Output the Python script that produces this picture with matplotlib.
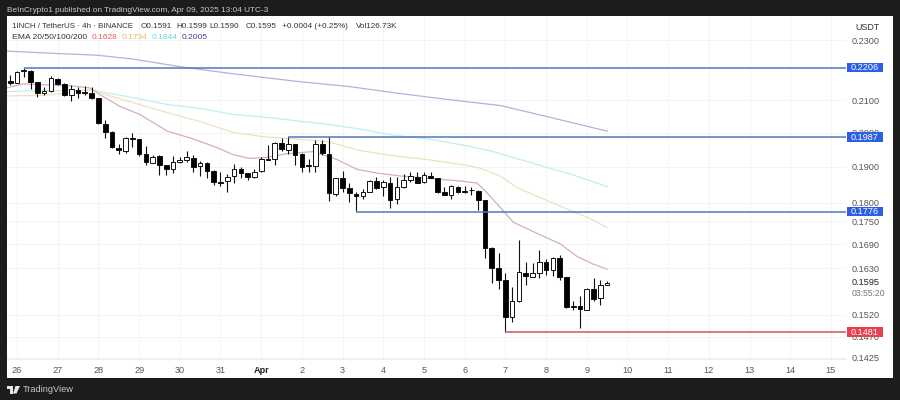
import matplotlib
matplotlib.use("Agg")
import matplotlib.pyplot as plt
from matplotlib.patches import Rectangle, Polygon
from matplotlib.ticker import NullLocator
from matplotlib.transforms import blended_transform_factory

plt.rcParams['font.family'] = ['Liberation Sans', 'DejaVu Sans']

# 4h candles, first one opens on day 25 at 20:00 (day numbers run on past 31: Apr 1 = 32)
first_candle_day = 25 + 5 / 6
opens = [.2162,.2157,.2194,.2196,.2158,.2122,.2130,.2170,.2152,.2117,.2133,.2127,.2122,.2107,.2028,.2002,
         .1956,.1946,.1984,.1980,.1937,.1912,.1931,.1906,.1893,.1913,.1919,.1926,.1901,.1911,.1889,.1857,
         .1859,.1874,.1893,.1881,.1870,.1888,.1923,.1922,.1969,.1949,.1965,.1937,.1905,.1903,.1967,.1936,
         .1824,.1868,.1839,.1824,.1817,.1829,.1861,.1843,.1853,.1809,.1842,.1863,.1871,.1856,.1874,.1868,
         .1828,.1820,.1844,.1831,.1836,.1833,.1807,.1680,.1631,.1601,.1514,.1551,.1618,.1610,.1620,.1646,
         .1626,.1655,.1608,.1541,.1541,.1531,.1580,.1558,.1591]
highs = [.2182,.2196,.2204,.2198,.2160,.2144,.2178,.2172,.2155,.2149,.2142,.2146,.2144,.2107,.2039,.2005,
         .1967,.1986,.2000,.1981,.1961,.1935,.1933,.1906,.1931,.1927,.1946,.1934,.1918,.1913,.1891,.1885,
         .1880,.1908,.1900,.1883,.1893,.1927,.1964,.1971,.1984,.1986,.1967,.1939,.1922,.1977,.1977,.1988,
         .1868,.1889,.1853,.1828,.1838,.1863,.1870,.1863,.1870,.1870,.1879,.1886,.1886,.1886,.1884,.1868,
         .1844,.1849,.1846,.1846,.1844,.1835,.1807,.1683,.1668,.1618,.1586,.1702,.1645,.1643,.1676,.1653,
         .1658,.1664,.1610,.1553,.1564,.1583,.1606,.1603,.1599]
lows = [.2149,.2155,.2176,.2135,.2110,.2117,.2128,.2150,.2115,.2099,.2107,.2117,.2106,.2028,.1983,.1956,
        .1937,.1940,.1957,.1931,.1904,.1910,.1877,.1877,.1883,.1911,.1915,.1885,.1874,.1867,.1849,.1846,
        .1830,.1853,.1868,.1862,.1868,.1886,.1920,.1905,.1947,.1937,.1905,.1885,.1886,.1885,.1934,.1805,
        .1817,.1829,.1803,.1777,.1809,.1828,.1837,.1817,.1786,.1795,.1840,.1858,.1853,.1853,.1867,.1826,
        .1821,.1810,.1826,.1826,.1821,.1780,.1655,.1594,.1580,.1481,.1504,.1550,.1589,.1609,.1606,.1614,
        .1612,.1602,.1535,.1531,.1490,.1530,.1551,.1542,.1590]
closes = [.2155,.2193,.2198,.2159,.2125,.2131,.2171,.2153,.2117,.2137,.2125,.2123,.2108,.2030,.2003,.1958,
          .1950,.1984,.1981,.1937,.1914,.1929,.1905,.1894,.1913,.1920,.1927,.1898,.1912,.1889,.1857,.1855,
          .1872,.1893,.1881,.1872,.1886,.1923,.1921,.1969,.1951,.1966,.1933,.1900,.1903,.1967,.1941,.1826,
          .1868,.1839,.1826,.1817,.1829,.1860,.1841,.1856,.1808,.1844,.1863,.1874,.1854,.1877,.1869,.1828,
          .1822,.1846,.1829,.1829,.1835,.1807,.1682,.1631,.1601,.1514,.1551,.1621,.1611,.1619,.1646,.1625,
          .1655,.1610,.1538,.1539,.1533,.1581,.1557,.1589,.1595]

ema20_days = [25.75,26.15,26.64,27.30,27.79,28.04,28.53,29.02,29.69,30.32,30.91,31.31,31.72,32.14,32.63,33.27,
              33.64,33.86,34.35,34.85,35.41,36.32,36.88,37.30,37.50,37.94,38.19,38.85,39.34,39.76,40.15,40.50]
ema20 = [.2140,.2153,.2150,.2147,.2140,.2118,.2081,.2056,.2005,.1982,.1956,.1935,.1924,.1927,.1938,.1944,
         .1930,.1921,.1893,.1882,.1874,.1865,.1860,.1854,.1833,.1779,.1748,.1715,.1692,.1660,.1641,.1628]
ema50_days = [25.75,26.07,26.64,27.13,27.79,28.04,28.85,29.69,30.50,31.31,32.14,32.78,33.64,34.43,35.24,36.07,
              37.06,37.38,37.87,38.29,38.85,39.51,40.01,40.50]
ema50 = [.2114,.2115,.2116,.2122,.2134,.2124,.2093,.2062,.2034,.2001,.1987,.1982,.1973,.1947,.1932,.1921,
         .1904,.1896,.1874,.1841,.1814,.1783,.1761,.1734]
ema100_days = [25.75,26.39,27.10,27.87,28.04,28.85,29.69,30.50,31.31,32.14,32.95,33.62,34.43,35.24,36.07,37.06,
               37.70,39.10,39.66,40.50]
ema100 = [.2128,.2131,.2131,.2134,.2128,.2109,.2087,.2075,.2056,.2047,.2035,.2026,.2011,.1993,.1982,.1961,
          .1944,.1896,.1877,.1844]
ema200_days = [25.75,26.81,27.97,28.85,30.08,31.31,32.95,34.18,35.41,36.64,37.87,39.10,40.50]
ema200 = [.2262,.2255,.2248,.2235,.2208,.2186,.2160,.2144,.2122,.2102,.2084,.2047,.2005]

level_prices = [.2206, .1987, .1776, .1481]
level_starts = [26.17, 32.66, 34.33, 38.0]
level_labels = ['0.2206', '0.1987', '0.1776', '0.1481']
level_colors = ['#4f78bd', '#4f78bd', '#4f78bd', '#d2535f']
level_box_colors = ['#2a5fe6', '#2a5fe6', '#2a5fe6', '#e8404f']

price_ticks = [.2300, .2100, .2000, .1900, .1800, .1750, .1690, .1630, .1520, .1470, .1425]
price_tick_labels = ['0.2300', '0.2100', '0.2000', '0.1900', '0.1800', '0.1750', '0.1690', '0.1630',
                     '0.1520', '0.1470', '0.1425']
day_ticks = list(range(26, 47))
day_tick_labels = ['26', '27', '28', '29', '30', '31', 'Apr', '2', '3', '4', '5', '6', '7', '8', '9', '10',
                   '11', '12', '13', '14', '15']
last_price = .1595

W, H = 900, 400
DARK = '#1c1c1c'
fig = plt.figure(figsize=(W / 100, H / 100), dpi=100, facecolor=DARK)


def fx(px):
    return px / W


def fy(py):
    return 1 - py / H


fig.add_artist(Rectangle((fx(7), fy(378)), fx(886), 362 / H, transform=fig.transFigure,
                         facecolor='white', edgecolor='none', zorder=-5))

ax = fig.add_axes([fx(7), fy(359), fx(839), 343 / H], facecolor='none')
ax.set_yscale('log')
ax.set_xlim(25.754, 46.37)
ax.set_ylim(.1422, .2385)
ax.yaxis.set_minor_locator(NullLocator())
ax.yaxis.tick_right()
ax.set_yticks(price_ticks)
ax.set_yticklabels(price_tick_labels)
ax.set_xticks(day_ticks)
ax.set_xticklabels(day_tick_labels)
ax.tick_params(axis='y', length=0, pad=4.3, labelsize=6.6, labelcolor='#555555')
ax.tick_params(axis='x', length=0, pad=5, labelsize=6.6, labelcolor='#555555')
for lab in ax.get_xticklabels():
    if lab.get_text() == 'Apr':
        lab.set_fontweight('bold')
        lab.set_color('#222222')
ax.grid(True, color='#f3f4f6', lw=0.7, zorder=0)
ax.set_axisbelow(True)
for side in ('top', 'left', 'right'):
    ax.spines[side].set_visible(False)
ax.spines['bottom'].set_color('#ececec')
ax.spines['bottom'].set_linewidth(0.7)

ax.plot(ema200_days, ema200, color='#b4b1d6', lw=0.9, zorder=2)
ax.plot(ema100_days, ema100, color='#c0eef0', lw=0.9, zorder=2)
ax.plot(ema50_days, ema50, color='#f0e0c2', lw=0.9, zorder=2)
ax.plot(ema20_days, ema20, color='#d6b0b3', lw=0.9, zorder=2)

n = len(opens)
xs = [first_candle_day + i / 6 for i in range(n)]
ax.vlines(xs, lows, highs, color='#111111', lw=0.8, zorder=3)
for x, o, c in zip(xs, opens, closes):
    up = c >= o
    ax.bar(x, abs(c - o), bottom=min(o, c), width=0.115, facecolor='white' if up else 'black',
           edgecolor='#111111', linewidth=0.7, zorder=4)

trans = blended_transform_factory(ax.transAxes, ax.transData)
for p, s, lab, col, box in zip(level_prices, level_starts, level_labels, level_colors, level_box_colors):
    ax.plot([s, 46.37], [p, p], color=col, lw=1.1, zorder=5, solid_capstyle='butt')
    yc = ax.transData.transform((40, p))[1] / (H)
    fig.add_artist(Rectangle((fx(847), yc - 4.7 / H), fx(36), 9.4 / H, transform=fig.transFigure,
                             facecolor=box, edgecolor='none', zorder=10))
    fig.text(fx(865), yc, lab, ha='center', va='center', color='white', fontsize=6.6, zorder=11)

ax.text(1 + 6 / 839, last_price, '0.1595', transform=trans, ha='left', va='center', color='#222222',
        fontsize=6.6, clip_on=False, zorder=6)
fig.text(fx(852), fy(293), '03:55:20', ha='left', va='center', color='#777777', fontsize=6.2)
fig.text(fx(855), fy(27), 'USDT', ha='left', va='center', color='#333333', fontsize=6.4)

fig.text(fx(7), fy(10), 'BeInCrypto1 published on TradingView.com, Apr 09, 2025 13:04 UTC-3',
         ha='left', va='center', color='#c8c8c8', fontsize=5.95)
fig.text(fx(12), fy(26.5), '1INCH / TetherUS · 4h · BINANCE', ha='left', va='center', color='#333333', fontsize=5.7)
for px, s in [(141, 'O0.1591'), (176, 'H0.1599'), (209, 'L0.1590'), (246, 'C0.1595'),
              (282, '+0.0004 (+0.25%)'), (356, 'Vol126.73K')]:
    fig.text(fx(px), fy(26.5), s, ha='left', va='center', color='#333333', fontsize=5.9)
fig.text(fx(12), fy(37.5), 'EMA 20/50/100/200', ha='left', va='center', color='#333333', fontsize=6.1)
for px, s, col in [(92, '0.1628', '#df5a62'), (122, '0.1734', '#e6b563'), (152, '0.1844', '#63d8e0'),
                   (182, '0.2005', '#3f3f96')]:
    fig.text(fx(px), fy(37.5), s, ha='left', va='center', color=col, fontsize=6.0)

# TradingView logo and name
logo = '#e6e6e6'
fig.add_artist(Polygon([(fx(7), fy(386)), (fx(13), fy(386)), (fx(13), fy(393.5)), (fx(10), fy(393.5)),
                        (fx(10), fy(389)), (fx(7), fy(389))], closed=True, transform=fig.transFigure,
                       facecolor=logo, edgecolor='none'))
fig.add_artist(Polygon([(fx(15.5), fy(386)), (fx(20), fy(386)), (fx(16.5), fy(393.5)), (fx(13), fy(393.5))],
                       closed=True, transform=fig.transFigure, facecolor=logo, edgecolor='none'))
fig.text(fx(23), fy(390), 'TradingView', ha='left', va='center', color='#c8c8c8', fontsize=6.7)

fig.savefig('out.png', dpi=100, facecolor=fig.get_facecolor())
